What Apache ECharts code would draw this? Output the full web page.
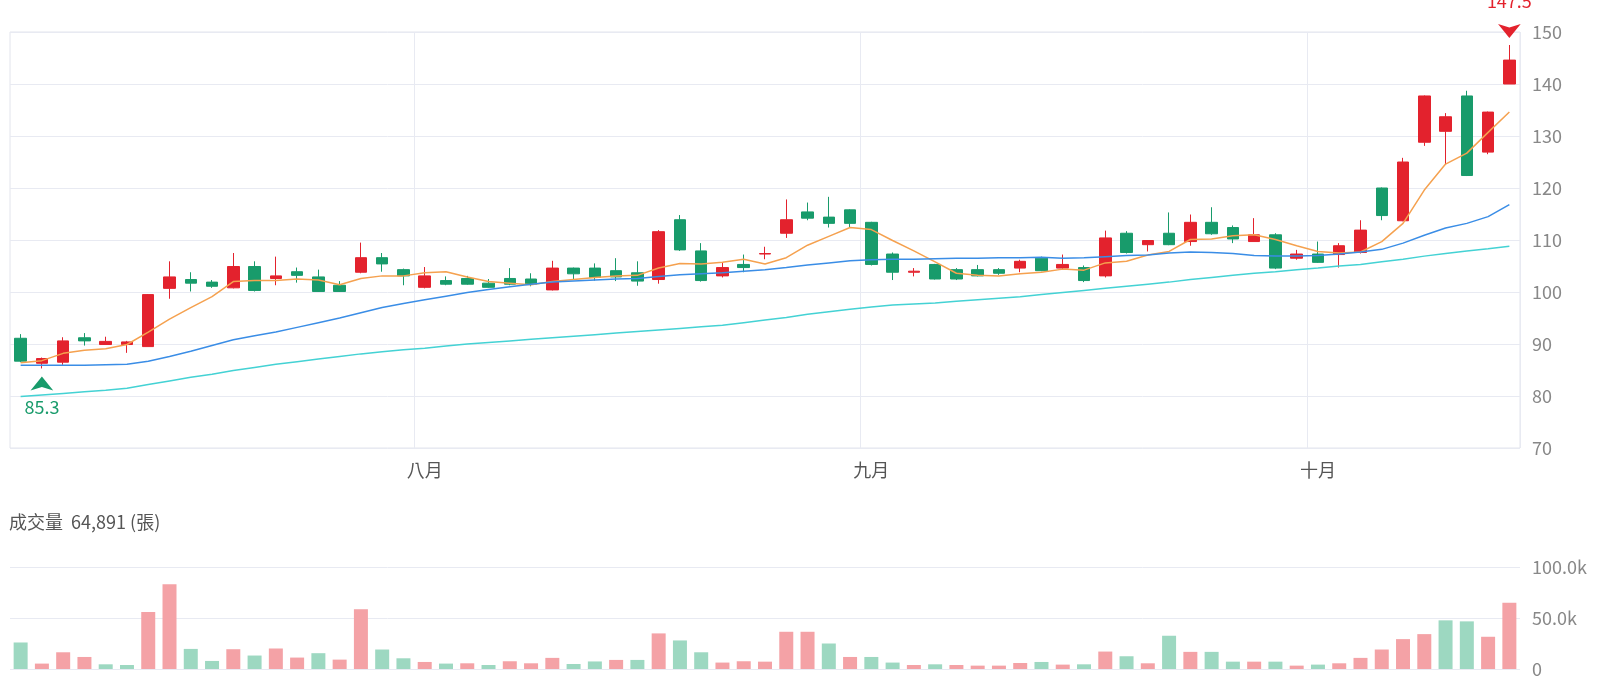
<!DOCTYPE html>
<html>
<head>
<meta charset="utf-8">
<script src="https://cdn.jsdelivr.net/npm/echarts@6/dist/echarts.min.js"></script>
<style>
html,body{margin:0;padding:0;background:#fff;}
#chart{width:1600px;height:700px;}
</style>
</head>
<body>
<div id="chart"></div>
<script>
const dates = [
'2025-07-07','2025-07-08','2025-07-09','2025-07-10','2025-07-11','2025-07-14','2025-07-15','2025-07-16','2025-07-17','2025-07-18',
'2025-07-21','2025-07-22','2025-07-23','2025-07-24','2025-07-25','2025-07-28','2025-07-29','2025-07-30','2025-07-31',
'2025-08-01','2025-08-04','2025-08-05','2025-08-06','2025-08-07','2025-08-08','2025-08-11','2025-08-12','2025-08-13','2025-08-14','2025-08-15',
'2025-08-18','2025-08-19','2025-08-20','2025-08-21','2025-08-22','2025-08-25','2025-08-26','2025-08-27','2025-08-28','2025-08-29',
'2025-09-01','2025-09-02','2025-09-03','2025-09-04','2025-09-05','2025-09-08','2025-09-09','2025-09-10','2025-09-11','2025-09-12',
'2025-09-15','2025-09-16','2025-09-17','2025-09-18','2025-09-19','2025-09-22','2025-09-23','2025-09-24','2025-09-25','2025-09-26','2025-09-30',
'2025-10-01','2025-10-02','2025-10-03','2025-10-07','2025-10-08','2025-10-09','2025-10-13','2025-10-14','2025-10-15','2025-10-16'
];
const opens = [
91.1,86.3,86.5,91.2,89.9,89.9,89.5,100.7,102.4,101.9,
100.8,104.9,102.6,103.9,102.9,101.3,103.8,106.6,104.3,100.9,
102.2,102.6,101.7,102.6,102.5,100.4,104.6,104.6,104.1,103.7,
102.4,113.9,107.9,103.1,105.3,107.3,111.3,115.4,114.4,115.8,
113.4,107.3,103.8,105.3,104.3,104.3,104.3,104.6,106.5,104.6,
104.7,103.1,111.3,109.1,111.3,109.7,113.4,112.4,109.7,111.0,
106.5,107.3,107.2,107.6,120.0,113.7,128.8,130.9,137.7,126.9,140.0
];
const closes = [
86.7,87.2,90.6,90.6,90.5,90.4,99.5,102.9,101.7,101.1,
104.9,100.3,103.1,103.2,100.1,100.1,106.6,105.4,103.1,103.1,
101.5,101.5,100.9,101.5,101.5,104.6,103.5,102.8,102.9,102.1,
111.6,108.1,102.2,104.7,104.7,107.4,113.9,114.2,113.2,113.2,
105.3,103.8,104.0,102.5,102.5,103.1,103.6,105.9,104.1,105.3,
102.2,110.4,107.6,109.9,109.1,113.4,111.2,110.2,111.0,104.6,
107.3,105.7,108.9,111.9,114.7,125.0,137.7,133.7,122.4,134.6,144.6
];
const lows = [
86.5,85.3,86.0,89.7,89.9,88.3,89.5,98.7,100.1,100.8,
100.7,100.1,101.3,101.8,100.0,100.0,103.6,103.9,101.3,100.7,
101.3,101.4,100.8,101.3,101.1,100.3,102.5,102.2,102.1,101.2,
101.6,107.9,102.0,102.8,103.8,106.3,110.4,113.8,112.4,112.4,
105.1,102.3,103.0,102.4,102.3,103.0,103.3,103.8,104.0,104.4,
101.9,102.8,107.4,107.8,109.0,108.9,111.0,109.4,109.7,104.4,
106.2,105.6,104.7,107.4,113.8,113.6,128.1,124.5,122.3,126.5,140.0
];
const highs = [
91.9,87.4,91.3,92.1,91.4,90.6,99.6,105.9,103.8,102.3,
107.5,105.9,106.8,104.7,104.3,102.1,109.5,107.5,104.5,104.8,
103.0,103.1,102.5,104.6,103.6,106.0,104.7,105.5,106.5,105.9,
111.9,114.8,109.4,105.7,107.2,108.7,117.8,117.2,118.3,115.9,
113.5,107.6,104.6,105.4,104.6,105.2,104.6,106.2,106.8,107.2,
105.1,111.8,111.7,110.0,115.3,114.9,116.3,112.8,114.2,111.3,
108.1,109.7,109.4,113.8,120.1,125.8,137.8,134.4,138.7,134.7,147.5
];
const volumes = [
26000,5300,16400,11800,4600,3900,55900,83200,19700,7900,
19400,13200,20100,11200,15500,9200,58600,19100,10500,6900,
5300,5600,3900,7600,5600,10900,4900,7400,8900,8900,
34900,28000,16400,6300,7600,7200,36500,36500,25000,11800,
11800,6300,3900,4600,3900,3300,3300,5900,6900,4300,
4600,17100,12500,5600,32600,16800,16800,7200,7200,7200,
3300,4300,5600,10900,19100,29300,34200,47700,46700,31600,64891
];
const ma5 = [
86.4,86.8,88.2,88.8,89.1,89.9,92.3,94.8,97.0,99.1,
102.0,102.2,102.2,102.5,102.3,101.4,102.6,103.1,103.1,103.7,
103.9,102.9,102.0,101.7,101.4,102.0,102.4,102.8,103.1,103.2,
104.6,105.5,105.4,105.7,106.3,105.4,106.6,109.0,110.7,112.4,
112.0,109.9,107.9,105.8,103.6,103.2,103.1,103.5,103.8,104.4,
104.2,105.6,105.9,107.1,107.8,110.1,110.2,110.8,111.0,110.1,
108.9,107.8,107.5,107.7,109.7,113.2,119.6,124.6,126.7,130.7,134.6
];
const ma20 = [
85.9,85.9,85.9,85.9,86.0,86.1,86.7,87.6,88.6,89.7,
90.8,91.6,92.3,93.2,94.1,95.0,96.0,97.0,97.8,98.5,
99.2,99.9,100.5,101.0,101.5,101.9,102.1,102.3,102.5,102.6,
103.0,103.3,103.5,103.7,104.0,104.3,104.7,105.2,105.6,106.0,
106.2,106.3,106.3,106.4,106.5,106.5,106.6,106.6,106.7,106.5,
106.6,106.8,107.0,107.1,107.5,107.7,107.6,107.4,107.0,106.9,
106.9,107.0,107.3,107.7,108.2,109.4,110.9,112.3,113.2,114.5,116.8
];
const ma60 = [
79.9,80.2,80.5,80.8,81.1,81.5,82.2,82.9,83.6,84.2,
84.9,85.5,86.1,86.6,87.1,87.6,88.1,88.5,88.9,89.2,
89.6,90.0,90.3,90.6,90.9,91.2,91.5,91.8,92.1,92.4,
92.7,93.0,93.3,93.6,94.1,94.6,95.1,95.7,96.2,96.7,
97.1,97.5,97.7,97.9,98.2,98.5,98.8,99.1,99.5,99.9,
100.3,100.7,101.1,101.5,101.9,102.4,102.8,103.2,103.6,103.9,
104.3,104.6,105.0,105.3,105.8,106.3,106.9,107.4,107.9,108.3,108.8
];
const monthNames = {7:'七月',8:'八月',9:'九月',10:'十月'};
const priceTicks = [70,80,90,100,110,120,130,140,150];
const volumeTicks = [0,50000,100000];

const RED = '#e3222d', GREEN = '#189b6b';
const RED_L = '#f4a2a6', GREEN_L = '#9dd8c1';
const GRID_C = '#e8eaf2';

const monthOf = d => parseInt(d.slice(5,7),10);
const isMonthStart = (idx) => idx > 0 && monthOf(dates[idx]) !== monthOf(dates[idx-1]);

const kData = dates.map((d,i)=>[opens[i],closes[i],lows[i],highs[i]]);
const volData = volumes.map((v,i)=>{
  const up = i === 0 ? closes[i] >= opens[i] : closes[i] >= closes[i-1];
  return {value:v, itemStyle:{color: up ? RED_L : GREEN_L}};
});

const chart = echarts.init(document.getElementById('chart'), null, {renderer:'canvas'});
const option = {
  animation:false,
  backgroundColor:'#fff',
  textStyle:{fontFamily:'"Noto Sans CJK TC","Noto Sans",sans-serif'},
  title:{
    text:'成交量  ' + volumes[volumes.length-1].toLocaleString('en-US') + ' (張)',
    left:4, top:508,
    textStyle:{fontSize:18, fontWeight:'normal', color:'#555', fontFamily:'"Noto Sans CJK TC",sans-serif'}
  },
  grid:[
    {left:10, right:80, top:32, height:416, show:true, borderColor:'#e2e4ec', borderWidth:1},
    {left:10, right:80, top:567, height:102}
  ],
  xAxis:[
    {type:'category', data:dates, gridIndex:0, boundaryGap:true,
     axisLine:{show:false}, axisTick:{show:false},
     axisLabel:{interval:isMonthStart, formatter:v=>monthNames[monthOf(v)], color:'#555', fontSize:18, margin:13},
     splitLine:{show:true, interval:isMonthStart, lineStyle:{color:GRID_C}}},
    {type:'category', data:dates, gridIndex:1, boundaryGap:true,
     axisLine:{show:false}, axisTick:{show:false}, axisLabel:{show:false}, splitLine:{show:false}}
  ],
  yAxis:[
    {type:'value', gridIndex:0, position:'right', scale:true,
     min:priceTicks[0], max:priceTicks[priceTicks.length-1], interval:priceTicks[1]-priceTicks[0],
     axisLine:{show:false}, axisTick:{show:false},
     axisLabel:{color:'#888', fontSize:18, margin:12},
     splitLine:{lineStyle:{color:GRID_C}}},
    {type:'value', gridIndex:1, position:'right',
     min:volumeTicks[0], max:volumeTicks[volumeTicks.length-1], interval:volumeTicks[1]-volumeTicks[0],
     axisLine:{show:false}, axisTick:{show:false},
     axisLabel:{color:'#888', fontSize:18, margin:12, formatter:v=> v===0 ? '0' : (v/1000).toFixed(1)+'k'},
     splitLine:{lineStyle:{color:GRID_C}}}
  ],
  series:[
    {type:'candlestick', name:'K', xAxisIndex:0, yAxisIndex:0, data:kData, barWidth:12,
     itemStyle:{color:RED, color0:GREEN, borderColor:RED, borderColor0:GREEN, borderColorDoji:RED, borderWidth:1},
     markPoint:{
       data:[
         {type:'max', valueDim:'highest', symbol:'arrow', symbolRotate:180, symbolSize:[17,14], symbolOffset:[0,-7],
          itemStyle:{color:RED},
          label:{show:true, position:'top', distance:14, color:RED, fontSize:18, formatter:p=>p.value}},
         {type:'min', valueDim:'lowest', symbol:'arrow', symbolSize:[17,14], symbolOffset:[0,8],
          itemStyle:{color:GREEN},
          label:{show:true, position:'bottom', distance:8, color:GREEN, fontSize:18, formatter:p=>p.value}}
       ]
     }
    },
    {type:'line', name:'MA5', data:ma5, xAxisIndex:0, yAxisIndex:0, symbol:'none', smooth:false,
     lineStyle:{color:'#f5a14f', width:1.5}, z:3},
    {type:'line', name:'MA20', data:ma20, xAxisIndex:0, yAxisIndex:0, symbol:'none', smooth:false,
     lineStyle:{color:'#3a8de6', width:1.5}, z:3},
    {type:'line', name:'MA60', data:ma60, xAxisIndex:0, yAxisIndex:0, symbol:'none', smooth:false,
     lineStyle:{color:'#44d2d4', width:1.5}, z:3},
    {type:'bar', name:'Volume', xAxisIndex:1, yAxisIndex:1, data:volData, barWidth:14}
  ]
};
chart.setOption(option);
</script>
</body>
</html>
